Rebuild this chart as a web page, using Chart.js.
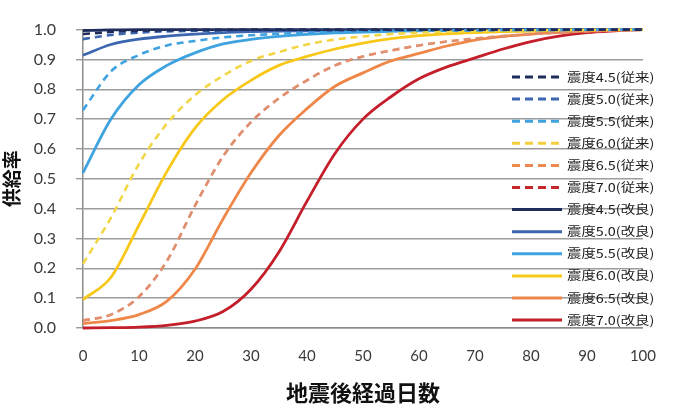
<!DOCTYPE html>
<html>
<head>
<meta charset="utf-8">
<script src="https://cdn.jsdelivr.net/npm/chart.js@4/dist/chart.umd.min.js"></script>
<style>
html,body{margin:0;padding:0;background:#fff;}
#wrap{position:relative;width:675px;height:411px;}
</style>
</head>
<body>
<div id="wrap"><canvas id="c" width="675" height="411"></canvas></div>
<script>
// ---- data ----
const days = [0,5,10,15,20,25,30,35,40,45,50,55,60,65,70,75,80,85,90,95,100];
const yTicks = [0,0.1,0.2,0.3,0.4,0.5,0.6,0.7,0.8,0.9,1.0];
const xTicks = [0,10,20,30,40,50,60,70,80,90,100];
const seriesNames = ["震度4.5(従来)","震度5.0(従来)","震度5.5(従来)","震度6.0(従来)","震度6.5(従来)","震度7.0(従来)",
                     "震度4.5(改良)","震度5.0(改良)","震度5.5(改良)","震度6.0(改良)","震度6.5(改良)","震度7.0(改良)"];
const old45 = [0.985,0.992,0.996,0.998,0.999,0.999,1,1,1,1,1,1,1,1,1,1,1,1,1,1,1];
const old50 = [0.968,0.982,0.990,0.994,0.996,0.997,0.998,0.999,0.999,0.999,1,1,1,1,1,1,1,1,1,1,1];
const old55 = [0.73,0.86,0.915,0.947,0.962,0.974,0.981,0.986,0.990,0.992,0.994,0.996,0.997,0.998,0.998,0.999,0.999,0.999,1,1,1];
const old60 = [0.215,0.37,0.55,0.685,0.78,0.845,0.895,0.925,0.95,0.967,0.977,0.985,0.99,0.993,0.995,0.997,0.998,0.999,0.999,1,1];
const old65 = [0.025,0.045,0.105,0.225,0.41,0.575,0.69,0.77,0.83,0.88,0.91,0.93,0.947,0.96,0.97,0.978,0.985,0.99,0.994,0.997,1];
const old70 = [0.025,0.045,0.105,0.225,0.41,0.575,0.69,0.77,0.83,0.88,0.91,0.93,0.947,0.96,0.97,0.978,0.985,0.99,0.994,0.997,1];
const new45 = [0.997,0.999,1,1,1,1,1,1,1,1,1,1,1,1,1,1,1,1,1,1,1];
const new50 = [0.914,0.95,0.968,0.978,0.985,0.99,0.993,0.995,0.996,0.997,0.998,0.998,0.999,0.999,0.999,1,1,1,1,1,1];
const new55 = [0.52,0.70,0.815,0.88,0.922,0.952,0.967,0.977,0.984,0.989,0.992,0.994,0.996,0.997,0.998,0.999,0.999,0.999,1,1,1];
const new60 = [0.095,0.17,0.345,0.525,0.67,0.765,0.83,0.88,0.91,0.935,0.955,0.97,0.98,0.986,0.99,0.993,0.995,0.997,0.998,0.999,1];
const new65 = [0.015,0.025,0.045,0.09,0.197,0.365,0.52,0.645,0.735,0.81,0.855,0.895,0.92,0.945,0.965,0.977,0.985,0.991,0.995,0.998,1];
const new70 = [0,0.001,0.003,0.009,0.023,0.055,0.13,0.255,0.425,0.585,0.70,0.775,0.835,0.875,0.905,0.935,0.96,0.978,0.99,0.996,1];

const allSeries = [old45,old50,old55,old60,old65,old70,new45,new50,new55,new60,new65,new70];
const colors = ["#1F2D5C","#3C66B0","#3FA3E0","#F5CF3B","#EE8A50","#C7282E",
                "#1F2D5C","#3C66B0","#3FA3E0","#F7C81A","#EE8748","#C41E2A"];
const lineColors = ["#1F2D5C","#3C66B0","#3FA3E0","#F2D646","#E0906C","rgba(199,40,46,0.35)",
                "#1F2D5C","#3C66B0","#3FA3E0","#F7C81A","#EE8748","#C41E2A"];

const datasets = allSeries.map((vals,i)=>({
  label: seriesNames[i],
  data: days.map((d,k)=>({x:d,y:vals[k]})),
  borderColor: lineColors[i],
  legendColor: colors[i],
  borderWidth: i<6 ? 2.6 : 2.8,
  borderDash: i<6 ? [7,5] : [],
  pointRadius: 0,
  fill:false,
  cubicInterpolationMode:'monotone',
  clip: 3
}));

const legendPlugin = {
  id:'customLegend',
  afterDraw(chart){
    const ctx = chart.ctx;
    ctx.save();
    chart.data.datasets.forEach((ds,i)=>{
      const y = 77 + i*22.1;
      ctx.strokeStyle = ds.legendColor;
      ctx.lineWidth = 3;
      ctx.setLineDash(ds.borderDash.length ? [8,5] : []);
      ctx.beginPath(); ctx.moveTo(512,y); ctx.lineTo(562,y); ctx.stroke();
      ctx.setLineDash([]);
      ctx.save();
      ctx.translate(567, y);
      ctx.scale(1.2, 1);
      ctx.fillStyle = '#1a1a1a';
      ctx.font = '12px "Noto Sans CJK JP"';
      ctx.textBaseline = 'middle';
      ctx.textAlign = 'left';
      ctx.fillText(ds.label, 0, 0);
      ctx.restore();
    });
    ctx.restore();
  }
};

new Chart(document.getElementById('c'), {
  type:'line',
  data:{datasets},
  plugins:[legendPlugin],
  options:{
    responsive:false,
    animation:false,
    devicePixelRatio:1,
    layout:{padding:{left:0,right:28,top:18,bottom:0}},
    plugins:{legend:{display:false},tooltip:{enabled:false}},
    scales:{
      x:{
        type:'linear', min:0, max:100,
        afterBuildTicks(s){ s.ticks = xTicks.map(v=>({value:v})); },
        afterFit(s){ s.height = 83; },
        grid:{display:false, drawTicks:false},
        border:{display:true,color:'#8c8c8c',width:1.5},
        ticks:{padding:19,color:'#3a3a3a',font:{family:'Lato',size:15},maxRotation:0},
        title:{display:true,text:'地震後経過日数',color:'#111',font:{family:'"Noto Sans CJK JP"',size:22,weight:'bold'},padding:{top:0,bottom:5}}
      },
      y:{
        min:0,max:1,
        afterBuildTicks(s){ s.ticks = yTicks.map(v=>({value:v})); },
        afterFit(s){ s.width = 83; },
        grid:{color:'#9c9c9c',lineWidth:1.4,tickLength:7,drawTicks:true},
        border:{display:true,color:'#8c8c8c',width:1.5},
        ticks:{padding:20,color:'#3a3a3a',font:{family:'Lato',size:16},callback:v=>v.toFixed(1)},
        title:{display:true,text:'供給率',color:'#111',font:{family:'"Noto Sans CJK JP"',size:19,weight:'bold'},padding:{top:0,bottom:0}}
      }
    }
  }
});
</script>
</body>
</html>
